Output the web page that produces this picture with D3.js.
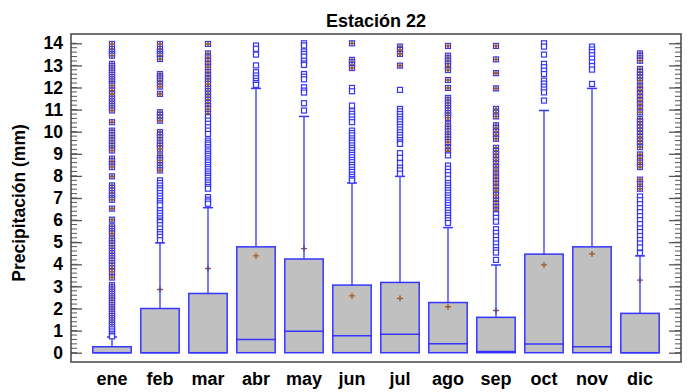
<!DOCTYPE html>
<html>
<head>
<meta charset="utf-8">
<script src="https://cdn.jsdelivr.net/npm/d3@7"></script>
<style>
    body { margin: 0; background: #fff; }
    svg { font-family: "Liberation Sans", Arial, sans-serif; }
</style>
</head>
<body>
<div id="chart"></div>
<script>
// monthly precipitation summary, station 22
const months = ['ene', 'feb', 'mar', 'abr', 'may', 'jun', 'jul', 'ago', 'sep', 'oct', 'nov', 'dic'];
const q1Vals = [0, 0, 0, 0, 0, 0, 0, 0, 0, 0, 0, 0];
const medianVals = [0, 0, 0, 0.6, 0.97, 0.77, 0.84, 0.41, 0.05, 0.39, 0.27, 0];
const q3Vals = [0.27, 2.0, 2.68, 4.79, 4.24, 3.06, 3.18, 2.27, 1.6, 4.46, 4.79, 1.78];
const whiskerHigh = [0.71, 4.97, 6.56, 11.96, 10.69, 7.68, 7.98, 5.66, 3.97, 10.96, 11.96, 4.38];
const meanVals = [0.9, 2.86, 3.81, 4.38, 4.71, 2.57, 2.46, 2.08, 1.91, 3.97, 4.47, 3.28];
const outliers = [
    [13.97, 13.74, 13.62, 13.52, 13.44, 13.07, 12.97, 12.87, 12.77, 12.67, 12.57, 12.47, 12.37, 12.27, 12.17, 12.09,
     11.86, 11.71, 11.49, 11.38, 11.27, 11.16, 11.06, 10.96, 10.43, 10.05, 9.95, 9.83, 9.71, 9.6, 9.48, 9.36, 9.25, 9.15,
     8.78, 8.66, 8.52, 8.4, 7.98, 7.57, 7.45, 7.33, 7.22, 7.1, 6.99, 6.92, 6.52, 6.02, 5.72, 5.6, 5.5, 5.39, 5.16, 5.05,
     4.95, 4.84, 4.72, 4.6, 4.5, 4.38, 4.27, 4.16, 4.05, 3.93, 3.82, 3.66, 3.4, 3.06, 2.96, 2.86, 2.76, 2.66, 2.56, 2.46,
     2.36, 2.26, 2.16, 2.06, 1.96, 1.86, 1.76, 1.66, 1.56, 1.46, 1.36, 1.26, 1.16, 1.06, 0.96, 0.86, 0.78, 0.74],
    [13.97, 13.74, 13.62, 13.52, 13.44, 13.29, 12.61, 12.5, 12.41, 12.31, 12.16, 12.04, 11.71, 10.88, 10.76, 10.63, 10.5,
     9.98, 9.86, 9.74, 9.6, 9.48, 9.36, 9.23, 8.93, 8.8, 8.7, 8.47, 8.36, 8.25, 7.8, 7.68, 7.56, 7.44, 7.35, 7.22, 7.1,
     6.98, 6.86, 6.76, 6.67, 6.44, 6.32, 6.2, 6.08, 5.98, 5.91, 5.77, 5.62, 5.46, 5.36, 5.24, 5.09],
    [13.97, 13.54, 13.36, 13.2, 13.05, 12.91, 12.69, 12.54, 12.39, 12.27, 12.16, 11.94, 11.83, 11.71, 11.56, 11.44, 11.3,
     11.16, 11.03, 10.81, 10.66, 10.5, 10.36, 10.2, 10.05, 9.9, 9.6, 9.5, 9.41, 9.3, 9.2, 9.11, 9.0, 8.91, 8.8, 8.7, 8.61,
     8.5, 8.4, 8.31, 8.2, 8.1, 8.0, 7.91, 7.8, 7.7, 7.6, 7.5, 7.42, 7.04, 6.92, 6.84, 6.74],
    [13.9, 13.75, 13.49, 13.0, 12.69, 12.54, 12.42, 12.3, 12.2, 12.12],
    [14.0, 13.9, 13.63, 13.52, 13.4, 13.21, 13.09, 13.02, 12.61, 12.49, 12.37, 12.01, 11.86, 11.77, 11.29, 10.96],
    [14.0, 13.25, 13.14, 13.02, 12.88, 11.98, 11.83, 11.18, 10.93, 10.81, 10.69, 10.55, 10.43, 10.05, 9.94, 9.83, 9.7,
     9.6, 9.5, 9.38, 9.27, 9.17, 9.05, 8.95, 8.84, 8.72, 8.62, 8.5, 8.4, 8.28, 8.18, 8.06, 7.96, 7.86, 7.79],
    [13.85, 13.7, 13.52, 12.99, 11.89, 11.03, 10.92, 10.8, 10.68, 10.57, 10.46, 10.34, 10.22, 10.1, 9.98, 9.86, 9.74,
     9.62, 9.52, 9.45, 9.03, 8.82, 8.58, 8.37, 8.25, 8.1],
    [13.88, 13.44, 13.32, 13.2, 13.08, 12.96, 12.79, 12.34, 11.98, 11.53, 11.42, 11.3, 11.18, 11.06, 10.95, 10.84, 10.73,
     10.63, 10.36, 10.24, 10.12, 10.0, 9.88, 9.76, 9.64, 9.53, 9.27, 9.12, 8.93, 8.47, 8.32, 8.18, 8.03, 7.87, 7.68, 7.57,
     7.46, 7.35, 7.24, 7.12, 7.01, 6.9, 6.79, 6.68, 6.56, 6.45, 6.33, 6.22, 6.1, 5.99, 5.87],
    [13.88, 13.27, 12.65, 11.96, 11.03, 10.86, 10.69, 10.29, 10.16, 10.0, 9.84, 9.68, 9.27, 9.13, 8.99, 8.85, 8.7, 8.55,
     8.4, 8.25, 8.07, 7.92, 7.77, 7.62, 7.46, 7.3, 7.12, 6.87, 6.73, 6.58, 6.43, 6.27, 6.1, 5.93, 5.59, 5.42, 5.26, 5.1,
     4.94, 4.78, 4.64, 4.53, 4.2],
    [14.0, 13.85, 13.49, 13.07, 12.92, 12.76, 12.61, 12.31, 12.18, 12.04, 11.91, 11.78, 11.41],
    [13.85, 13.72, 13.6, 13.46, 13.3, 13.14, 12.97, 12.81, 12.16],
    [13.54, 13.43, 13.32, 13.21, 12.84, 12.7, 12.57, 12.44, 12.31, 12.04, 11.88, 11.71, 11.56, 11.4, 11.24, 11.06, 10.88,
     10.58, 10.45, 10.32, 10.18, 10.04, 9.9, 9.76, 9.6, 9.45, 9.3, 8.97, 8.8, 8.6, 8.4, 7.83, 7.62, 7.42, 7.07, 6.9, 6.72,
     6.54, 6.36, 6.18, 6.0, 5.82, 5.62, 5.46, 5.28, 5.1, 4.94, 4.76, 4.51]
];
const yTickVals = [0, 1, 2, 3, 4, 5, 6, 7, 8, 9, 10, 11, 12, 13, 14];

let width = 700,
    height = 392,
    frame = {left: 71, right: 681, top: 34, bottom: 362},
    blue = '#3535ff',
    brown = '#9a5a28';

let svg = d3.select('#chart').append('svg')
    .attr('width', width)
    .attr('height', height);

let x = d3.scaleBand().domain(months).range([88, 664]).paddingInner(0.2).paddingOuter(0.1);
let y = d3.scaleLinear().domain([0, 14]).range([352.7, 43.3]);

let rows = months.map((m, i) => ({
    month: m,
    q1: q1Vals[i],
    median: medianVals[i],
    q3: q3Vals[i],
    hi: whiskerHigh[i],
    mean: meanVals[i],
    out: outliers[i]
}));

// title
svg.append('text')
    .attr('x', (frame.left + frame.right) / 2)
    .attr('y', 27)
    .attr('text-anchor', 'middle')
    .attr('font-size', 18)
    .attr('font-weight', 'bold')
    .text('Estación 22');

// y axis title
svg.append('text')
    .attr('transform', `translate(25, ${(frame.top + frame.bottom) / 2 + 5}) rotate(-90)`)
    .attr('text-anchor', 'middle')
    .attr('font-size', 17.5)
    .attr('font-weight', 'bold')
    .text('Precipitación (mm)');

// minor ticks, both sides
let minor = y.ticks(70);
let tickColor = '#555';
svg.append('g').selectAll('line')
    .data(minor)
    .enter().append('line')
    .attr('x1', frame.left).attr('x2', frame.left + 6)
    .attr('y1', (d) => y(d)).attr('y2', (d) => y(d))
    .attr('stroke', tickColor);
svg.append('g').selectAll('line')
    .data(minor)
    .enter().append('line')
    .attr('x1', frame.right - 6).attr('x2', frame.right)
    .attr('y1', (d) => y(d)).attr('y2', (d) => y(d))
    .attr('stroke', tickColor);

// major ticks + labels
let yAxis = svg.append('g')
    .attr('transform', `translate(${frame.left},0)`)
    .call(d3.axisLeft(y).tickValues(yTickVals).tickSize(-11).tickPadding(8).tickFormat(d3.format('d')));
yAxis.select('.domain').remove();
yAxis.selectAll('line').attr('stroke', tickColor).attr('stroke-width', 1.3);
yAxis.selectAll('text')
    .attr('font-size', 17.5)
    .attr('font-weight', 'bold')
    .attr('fill', '#000')
    .attr('font-family', '"Liberation Sans", Arial, sans-serif');

let yAxisR = svg.append('g')
    .attr('transform', `translate(${frame.right},0)`)
    .call(d3.axisRight(y).tickValues(yTickVals).tickSize(-12).tickFormat(''));
yAxisR.select('.domain').remove();
yAxisR.selectAll('line').attr('stroke', tickColor).attr('stroke-width', 1.3);

// x axis labels
let xAxis = svg.append('g')
    .attr('transform', `translate(0,${frame.bottom})`)
    .call(d3.axisBottom(x).tickSize(0).tickPadding(10));
xAxis.select('.domain').remove();
xAxis.selectAll('text')
    .attr('font-size', 18)
    .attr('font-weight', 'bold')
    .attr('fill', '#000')
    .attr('font-family', '"Liberation Sans", Arial, sans-serif');

// frame
svg.append('rect')
    .attr('x', frame.left)
    .attr('y', frame.top)
    .attr('width', frame.right - frame.left)
    .attr('height', frame.bottom - frame.top)
    .attr('fill', 'none')
    .attr('stroke', '#444')
    .attr('stroke-width', 1.5);

let groups = svg.append('g').selectAll('g')
    .data(rows)
    .enter().append('g')
    .attr('transform', (d) => `translate(${x(d.month) + x.bandwidth() / 2},0)`);

let bw = x.bandwidth();

// box
groups.append('rect')
    .attr('x', -bw / 2)
    .attr('width', bw)
    .attr('y', (d) => y(d.q3))
    .attr('height', (d) => y(d.q1) - y(d.q3))
    .attr('fill', '#c0c0c0')
    .attr('stroke', blue)
    .attr('stroke-width', 1.5);

// median
groups.append('line')
    .attr('x1', -bw / 2).attr('x2', bw / 2)
    .attr('y1', (d) => y(d.median)).attr('y2', (d) => y(d.median))
    .attr('stroke', blue).attr('stroke-width', 1.5);

// mean (drawn under the whisker)
groups.append('path')
    .attr('d', (d) => `M-3,${y(d.mean)}h6M0,${y(d.mean) - 3}v6`)
    .attr('stroke', brown).attr('stroke-width', 1.3).attr('fill', 'none');

// whisker + cap
groups.append('line')
    .attr('x1', 0).attr('x2', 0)
    .attr('y1', (d) => y(d.q3)).attr('y2', (d) => y(d.hi))
    .attr('stroke', blue).attr('stroke-width', 1.3);
groups.append('line')
    .attr('x1', -5).attr('x2', 5)
    .attr('y1', (d) => y(d.hi)).attr('y2', (d) => y(d.hi))
    .attr('stroke', blue).attr('stroke-width', 1.5);

// outliers: squares, far ones (beyond 3 IQR) get a brown cross
groups.each(function (d) {
    let farLimit = d.q3 + 3 * (d.q3 - d.q1);
    let pts = d3.select(this).selectAll('g.pt')
        .data(d.out)
        .enter().append('g')
        .attr('class', 'pt')
        .attr('transform', (v) => `translate(0,${y(v)})`);

    pts.append('rect')
        .attr('x', -2.5).attr('y', -2.5)
        .attr('width', 5).attr('height', 5)
        .attr('fill', '#fff')
        .attr('stroke', blue)
        .attr('stroke-width', 1.2);

    pts.filter((v) => v > farLimit)
        .append('path')
        .attr('d', 'M-2.5,0h5M0,-2.5v5')
        .attr('stroke', brown)
        .attr('stroke-width', 1.6);
});
</script>
</body>
</html>
